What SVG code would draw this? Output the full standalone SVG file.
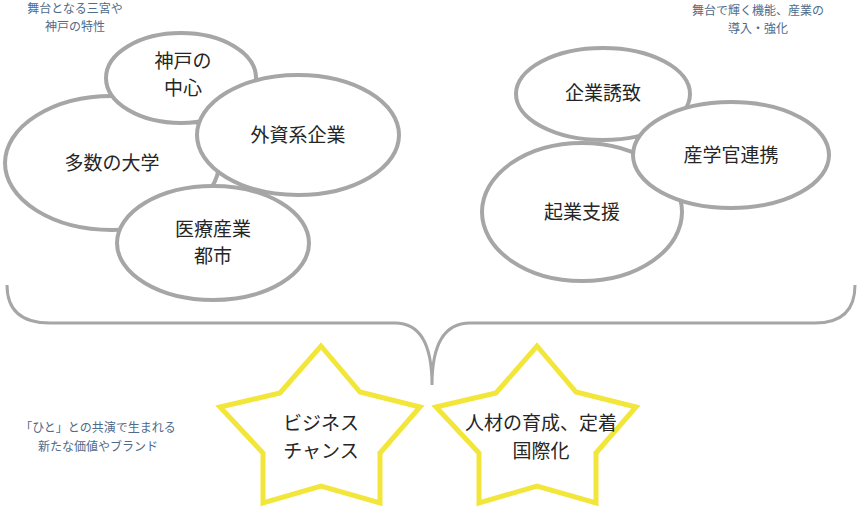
<svg xmlns="http://www.w3.org/2000/svg" width="860" height="515" viewBox="0 0 860 515">
<style>
.e{fill:#fff;stroke:#a6a6a6;stroke-width:4}
.t{font-family:"Noto Sans CJK JP",sans-serif;font-size:19px;fill:#262626;text-anchor:middle}
.s{font-family:"Noto Sans CJK JP",sans-serif;font-size:12px;fill:#4f6b8a;text-anchor:middle}
.st{fill:#fff;stroke:#f2e63a;stroke-width:5;stroke-linejoin:miter}
</style>
<defs>
<polygon id="star" points="321,346 360,392 420,407 380,453 380,503 321,486 263,503 263,453 220,407 280,393"/>
</defs>
<rect width="860" height="515" fill="#fff"/>
<g id="labels">
<text class="s" x="75" y="13">舞台となる三宮や</text>
<text class="s" x="75" y="31">神戸の特性</text>
<text class="s" x="758" y="15">舞台で輝く機能、産業の</text>
<text class="s" x="758" y="33">導入・強化</text>
<text class="s" x="98" y="432">「ひと」との共演で生まれる</text>
<text class="s" x="98" y="451">新たな価値やブランド</text>
</g>
<g id="n1"><ellipse class="e" cx="112" cy="163" rx="107" ry="67"/><text class="t" x="112" y="170">多数の大学</text></g>
<g id="n2"><ellipse class="e" cx="181" cy="78" rx="75" ry="45"/><text class="t" x="183" y="68">神戸の</text><text class="t" x="183" y="95">中心</text></g>
<g id="n3"><ellipse class="e" cx="298" cy="135" rx="101" ry="60"/><text class="t" x="298" y="142">外資系企業</text></g>
<g id="n4"><ellipse class="e" cx="213" cy="243" rx="96" ry="57"/><text class="t" x="213" y="236">医療産業</text><text class="t" x="213" y="263">都市</text></g>
<g id="n5"><ellipse class="e" cx="582" cy="212" rx="100" ry="69"/><text class="t" x="582" y="219">起業支援</text></g>
<g id="n6"><ellipse class="e" cx="603" cy="94" rx="87" ry="46"/><text class="t" x="603" y="100">企業誘致</text></g>
<g id="n7"><ellipse class="e" cx="731" cy="155" rx="98" ry="53"/><text class="t" x="731" y="162">産学官連携</text></g>
<g id="connectors">
<path d="M7,285 Q7,323 50,323 L395,323 Q432,323 432,385 Q432,323 470,323 L815,323 Q855,323 855,285" fill="none" stroke="#a6a6a6" stroke-width="3"/>
</g>
<g id="star1"><use href="#star" class="st"/><text class="t" x="321" y="430">ビジネス</text><text class="t" x="321" y="458">チャンス</text></g>
<g id="star2"><use href="#star" class="st" transform="translate(216,0)"/><text class="t" x="541" y="430">人材の育成、定着</text><text class="t" x="541" y="458">国際化</text></g>
</svg>
